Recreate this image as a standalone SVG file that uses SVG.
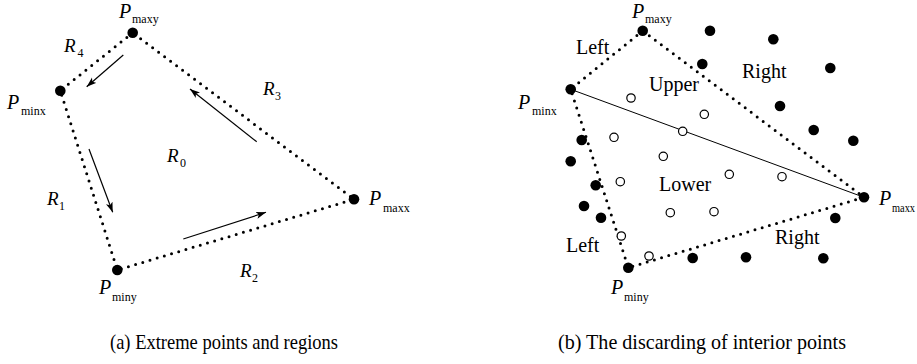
<svg xmlns="http://www.w3.org/2000/svg" width="917" height="364" viewBox="0 0 917 364">
<style>
.dot{stroke:#000;stroke-width:3;stroke-linecap:round;stroke-dasharray:0 7.5;fill:none}
.solid{stroke:#000;stroke-width:1;fill:none}
.arr{stroke:#000;stroke-width:1.2;fill:none;marker-end:url(#ah)}
.node{fill:#000}
.in{fill:#fff;stroke:#000;stroke-width:1.2}
.out{fill:#000}
.P{font-size:20px;font-style:italic}
.sub{font-size:12px}
.R{font-size:19px;font-style:italic}
.rs{font-size:12px}
.lbl{font-size:20px}
.cap{font-size:21px}
</style>
<defs>
<marker id="ah" markerUnits="userSpaceOnUse" markerWidth="12" markerHeight="8" refX="10" refY="4" orient="auto">
<path d="M0,0.5 L10,4 L0,7.5 L2.5,4 z" fill="#000"/>
</marker>
</defs>
<rect width="917" height="364" fill="#fff"/>

<g id="connectors">
<polygon class="dot" points="132.7,32.7 60.3,90.7 117.3,270 354,199.3"/>
<line class="arr" x1="123.3" y1="55" x2="86.7" y2="86.7"/>
<line class="arr" x1="256.7" y1="141.7" x2="190" y2="89"/>
<line class="arr" x1="89" y1="149" x2="112.7" y2="212.3"/>
<line class="arr" x1="183.3" y1="239" x2="266" y2="212.3"/>
<polygon class="dot" points="642.7,30.7 570.7,89.3 628.3,267.7 864,197.3"/>
<line class="solid" x1="570.7" y1="89.3" x2="864" y2="197.3"/>
</g>

<g font-family="'Liberation Serif', 'DejaVu Serif', 'Times New Roman', serif" fill="#000">

<g id="a-pmaxy"><circle class="node" cx="132.7" cy="32.7" r="5.3"/><text class="P" x="119" y="18">P</text><text class="sub" x="132" y="23">maxy</text></g>
<g id="a-pminx"><circle class="node" cx="60.3" cy="90.7" r="5.3"/><text class="P" x="7" y="109">P</text><text class="sub" x="21" y="115">minx</text></g>
<g id="a-pmaxx"><circle class="node" cx="354" cy="199.3" r="5.3"/><text class="P" x="369" y="205">P</text><text class="sub" x="383" y="212">maxx</text></g>
<g id="a-pminy"><circle class="node" cx="117.3" cy="270" r="5.3"/><text class="P" x="99" y="294">P</text><text class="sub" x="112" y="301">miny</text></g>

<g id="a-regions">
<text class="R" x="64" y="52">R</text><text class="rs" x="77.5" y="57">4</text>
<text class="R" x="263" y="95">R</text><text class="rs" x="275" y="100">3</text>
<text class="R" x="167" y="162">R</text><text class="rs" x="180" y="167">0</text>
<text class="R" x="47" y="205">R</text><text class="rs" x="59" y="210">1</text>
<text class="R" x="240" y="277">R</text><text class="rs" x="252" y="282">2</text>
</g>

<g id="b-pmaxy"><circle class="node" cx="642.7" cy="30.7" r="5.3"/><text class="P" x="632" y="18">P</text><text class="sub" x="645" y="23">maxy</text></g>
<g id="b-pminx"><circle class="node" cx="570.7" cy="89.3" r="5.3"/><text class="P" x="518" y="109">P</text><text class="sub" x="532" y="115">minx</text></g>
<g id="b-pmaxx"><circle class="node" cx="864" cy="197.3" r="5.3"/><text class="P" x="879" y="205">P</text><text class="sub" x="892" y="212" textLength="23" lengthAdjust="spacingAndGlyphs">maxx</text></g>
<g id="b-pminy"><circle class="node" cx="628.3" cy="267.7" r="5.3"/><text class="P" x="611" y="294">P</text><text class="sub" x="624" y="301">miny</text></g>

<g id="b-outer-points">
<circle class="out" cx="710" cy="30.7" r="5.3"/>
<circle class="out" cx="773.3" cy="39.3" r="5.3"/>
<circle class="out" cx="702.3" cy="64" r="5.3"/>
<circle class="out" cx="830.3" cy="68" r="5.3"/>
<circle class="out" cx="780" cy="106" r="5.3"/>
<circle class="out" cx="813.7" cy="130" r="5.3"/>
<circle class="out" cx="853.3" cy="140.7" r="5.3"/>
<circle class="out" cx="581.7" cy="140" r="5.3"/>
<circle class="out" cx="570.7" cy="161.3" r="5.3"/>
<circle class="out" cx="595.7" cy="185.3" r="5.3"/>
<circle class="out" cx="584" cy="206" r="5.3"/>
<circle class="out" cx="601" cy="217.7" r="5.3"/>
<circle class="out" cx="835.3" cy="218" r="5.3"/>
<circle class="out" cx="692.7" cy="258" r="5.3"/>
<circle class="out" cx="746" cy="257.3" r="5.3"/>
<circle class="out" cx="823.3" cy="258.3" r="5.3"/>
</g>

<g id="b-inner-points">
<circle class="in" cx="631" cy="98" r="4.2"/>
<circle class="in" cx="704.3" cy="114.3" r="4.2"/>
<circle class="in" cx="682.7" cy="131.3" r="4.2"/>
<circle class="in" cx="614" cy="137.3" r="4.2"/>
<circle class="in" cx="663.3" cy="156.3" r="4.2"/>
<circle class="in" cx="729.3" cy="174.3" r="4.2"/>
<circle class="in" cx="782" cy="176.7" r="4.2"/>
<circle class="in" cx="620.3" cy="181.7" r="4.2"/>
<circle class="in" cx="670.3" cy="212.7" r="4.2"/>
<circle class="in" cx="714" cy="211.7" r="4.2"/>
<circle class="in" cx="621.3" cy="236" r="4.2"/>
<circle class="in" cx="649" cy="256" r="4.2"/>
</g>

<g id="b-labels">
<text class="lbl" x="576" y="54">Left</text>
<text class="lbl" x="742" y="78">Right</text>
<text class="lbl" x="649" y="91">Upper</text>
<text class="lbl" x="659" y="191">Lower</text>
<text class="lbl" x="775" y="244">Right</text>
<text class="lbl" x="566" y="252">Left</text>
</g>

<g id="captions">
<text class="cap" x="110" y="349" textLength="228" lengthAdjust="spacingAndGlyphs">(a) Extreme points and regions</text>
<text class="cap" x="558" y="349" textLength="288" lengthAdjust="spacingAndGlyphs">(b) The discarding of interior points</text>
</g>
</g>
</svg>
